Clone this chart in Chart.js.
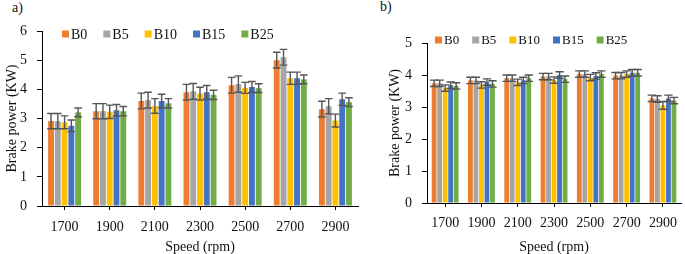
<!DOCTYPE html>
<html>
<head>
<meta charset="utf-8">
<script src="https://cdn.jsdelivr.net/npm/chart.js@4.4.1/dist/chart.umd.min.js"></script>
<style>
  body { margin: 0; background: #fff; width: 685px; height: 254px; overflow: hidden; position: relative; font-family: "Liberation Serif", serif; color: #111; }
  .box { position: absolute; top: 0; height: 254px; }
  .tag { position: absolute; font-size: 14px; line-height: 16px; }
</style>
</head>
<body>
<div class="tag" style="left:12px;top:0px">a)</div>
<div class="tag" style="left:380px;top:-1px">b)</div>
<div class="box" style="left:0;width:365px"><canvas id="chartA"></canvas></div>
<div class="box" style="left:370px;width:315px"><canvas id="chartB"></canvas></div>
<script>
const speeds = ["1700", "1900", "2100", "2300", "2500", "2700", "2900"];
const blends = ["B0", "B5", "B10", "B15", "B25"];
const colors = ["#ED7D31", "#A5A5A5", "#FFC000", "#4472C4", "#70AD47"];

// panel a) values
const a_B0 = [2.91, 3.25, 3.6, 3.9, 4.14, 5.0, 3.32];
const a_B5 = [2.91, 3.25, 3.63, 3.93, 4.18, 5.1, 3.42];
const a_B10 = [2.87, 3.23, 3.43, 3.85, 4.05, 4.38, 2.93];
const a_B15 = [2.75, 3.28, 3.6, 3.9, 4.08, 4.38, 3.66];
const a_B25 = [3.21, 3.25, 3.52, 3.81, 4.04, 4.34, 3.56];
// panel a) error bars (+/-)
const a_err_B0 = [0.26, 0.26, 0.27, 0.27, 0.27, 0.27, 0.27];
const a_err_B5 = [0.26, 0.26, 0.27, 0.27, 0.28, 0.27, 0.26];
const a_err_B10 = [0.22, 0.23, 0.25, 0.22, 0.19, 0.21, 0.22];
const a_err_B15 = [0.2, 0.2, 0.23, 0.23, 0.19, 0.21, 0.21];
const a_err_B25 = [0.15, 0.16, 0.16, 0.16, 0.15, 0.15, 0.15];

// panel b) values
const b_B0 = [3.74, 3.83, 3.9, 3.95, 4.03, 3.98, 3.27];
const b_B5 = [3.74, 3.83, 3.9, 3.95, 4.03, 3.98, 3.25];
const b_B10 = [3.59, 3.69, 3.77, 3.84, 3.92, 4.03, 3.05];
const b_B15 = [3.68, 3.78, 3.83, 4.0, 3.97, 4.07, 3.27];
const b_B25 = [3.66, 3.72, 3.9, 3.87, 4.03, 4.07, 3.2];
// panel b) error bars (+/-)
const b_err_B0 = [0.1, 0.1, 0.1, 0.1, 0.1, 0.1, 0.1];
const b_err_B5 = [0.1, 0.1, 0.1, 0.1, 0.1, 0.1, 0.1];
const b_err_B10 = [0.1, 0.1, 0.1, 0.1, 0.1, 0.1, 0.12];
const b_err_B15 = [0.1, 0.1, 0.1, 0.1, 0.1, 0.1, 0.1];
const b_err_B25 = [0.1, 0.1, 0.1, 0.1, 0.1, 0.1, 0.1];

const serif = "'Liberation Serif', 'Times New Roman', serif";
Chart.defaults.color = "#111";
Chart.defaults.font.family = serif;

const errorBars = {
  id: "errorBars",
  afterDatasetsDraw(chart, args, opts) {
    const ctx = chart.ctx;
    const y = chart.scales.y;
    ctx.save();
    ctx.strokeStyle = "#555";
    ctx.lineWidth = 1.4;
    chart.data.datasets.forEach((ds, i) => {
      chart.getDatasetMeta(i).data.forEach((bar, j) => {
        const top = y.getPixelForValue(ds.data[j] + ds.errors[j]);
        const bot = y.getPixelForValue(ds.data[j] - ds.errors[j]);
        const w = opts.cap;
        ctx.beginPath();
        ctx.moveTo(bar.x, top); ctx.lineTo(bar.x, bot);
        ctx.moveTo(bar.x - w, top); ctx.lineTo(bar.x + w, top);
        ctx.moveTo(bar.x - w, bot); ctx.lineTo(bar.x + w, bot);
        ctx.stroke();
      });
    });
    ctx.restore();
  },
};

const topLegend = {
  id: "topLegend",
  afterDraw(chart, args, opts) {
    const ctx = chart.ctx;
    ctx.save();
    ctx.font = opts.size + "px " + serif;
    ctx.textBaseline = "middle";
    let x = opts.x;
    chart.data.datasets.forEach((ds) => {
      ctx.fillStyle = ds.backgroundColor;
      ctx.fillRect(x, opts.y - 3.5, 7, 7);
      ctx.fillStyle = "#111";
      ctx.fillText(ds.label, x + 9, opts.y + 1);
      x += 9 + ctx.measureText(ds.label).width + opts.gap;
    });
    ctx.restore();
  },
};

function createChart(id, series, errors, cfg) {
  const ctx = document.getElementById(id).getContext("2d");
  return new Chart(ctx, {
    type: "bar",
    data: {
      labels: speeds,
      datasets: blends.map((b, i) => ({
        label: b,
        data: series[i],
        errors: errors[i],
        backgroundColor: colors[i],
        borderWidth: 0,
        categoryPercentage: cfg.catPct,
        barPercentage: 0.87,
      })),
    },
    options: {
      responsive: true,
      maintainAspectRatio: false,
      animation: false,
      layout: { padding: { top: cfg.top, right: cfg.right, left: 0, bottom: 0 } },
      plugins: {
        legend: { display: false },
        tooltip: { enabled: false },
        errorBars: { cap: cfg.cap },
        topLegend: cfg.legend,
      },
      scales: {
        x: {
          afterFit: (scale) => { scale.height = cfg.xHeight; },
          grid: { drawOnChartArea: false, offset: false, tickLength: 4, color: "#000" },
          border: { color: "#000" },
          ticks: { font: { size: 14 }, padding: cfg.xTickPad, maxRotation: 0 },
          title: { display: true, text: "Speed (rpm)", font: { size: 14, lineHeight: 1 }, padding: { top: 0, bottom: cfg.xTitlePad } },
        },
        y: {
          min: 0,
          max: cfg.yMax,
          afterFit: (scale) => { scale.width = cfg.yWidth; },
          grid: { drawOnChartArea: false, tickLength: 5, color: "#000" },
          border: { color: "#000" },
          ticks: { stepSize: 1, font: { size: 14 }, padding: 10 },
          title: { display: true, text: "Brake power (KW)", font: { size: 14, lineHeight: 1 }, padding: { top: cfg.yTitlePad, bottom: 0 } },
        },
      },
    },
    plugins: [errorBars, topLegend],
  });
}

createChart("chartA",
  [a_B0, a_B5, a_B10, a_B15, a_B25],
  [a_err_B0, a_err_B5, a_err_B10, a_err_B15, a_err_B25],
  { top: 31, right: 7, xHeight: 48, yWidth: 42, yMax: 6, catPct: 0.75, cap: 3.8,
    xTickPad: 9, xTitlePad: 0, yTitlePad: 5, legend: { x: 62, y: 34, size: 14, gap: 16 } });

createChart("chartB",
  [b_B0, b_B5, b_B10, b_B15, b_B25],
  [b_err_B0, b_err_B5, b_err_B10, b_err_B15, b_err_B25],
  { top: 43, right: 1, xHeight: 51, yWidth: 57, yMax: 5, catPct: 0.76, cap: 4.2,
    xTickPad: 8, xTitlePad: 0, yTitlePad: 18, legend: { x: 65, y: 40, size: 13, gap: 13 } });
</script>
</body>
</html>
